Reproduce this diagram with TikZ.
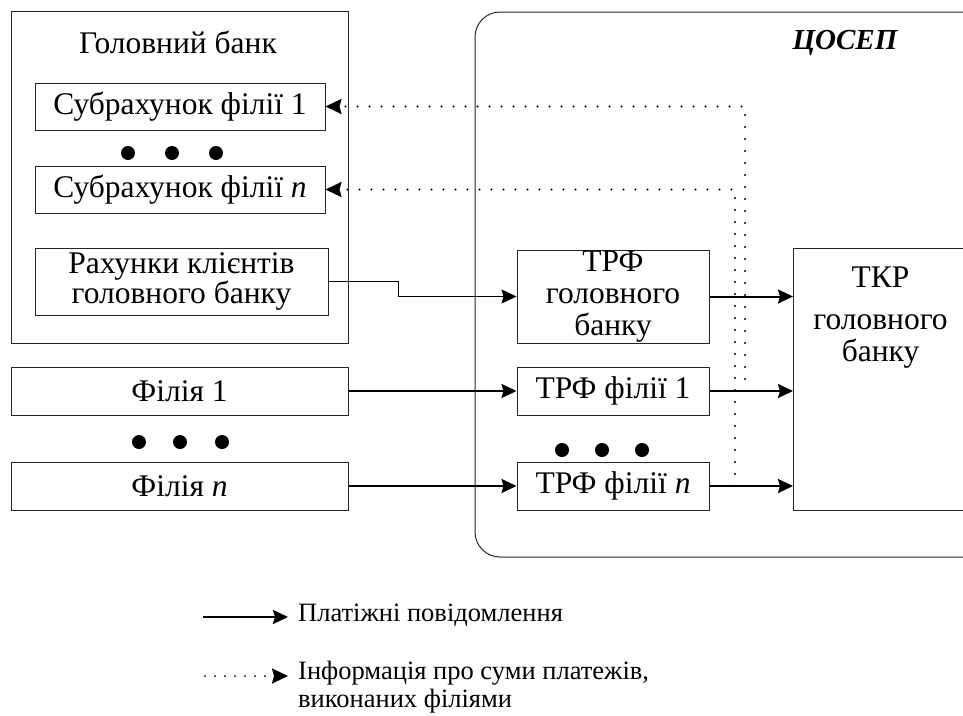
\documentclass[tikz,border=0pt]{standalone}
\usepackage{fontspec}
\setmainfont{Liberation Serif}
\usetikzlibrary{arrows.meta,positioning}
\newcommand\mainsize{\fontsize{31.5pt}{32pt}\selectfont}
\newcommand\legsize{\fontsize{26.5pt}{28pt}\selectfont}
\newcommand\cosepsize{\fontsize{29pt}{30pt}\selectfont}
\tikzset{
  box/.style={draw=black!85, line width=1pt, inner sep=0pt, align=center, font=\mainsize},
  frame/.style={draw=black!85, line width=1pt, inner sep=0pt},
  payarrow/.style={line width=2pt, -{Stealth[length=15pt,width=14pt,inset=2pt]}},
  thinarrow/.style={line width=1pt, -{Stealth[length=15pt,width=14pt,inset=2pt]}},
  infoarrow/.style={line width=2.4pt, line cap=round, dash pattern=on 0pt off 12pt,
    -{Stealth[length=16pt,width=15pt,inset=2pt]}},
  infolegend/.style={line width=2pt, line cap=round, dash pattern=on 0pt off 10pt,
    -{Stealth[length=16pt,width=15pt,inset=2pt]}},
  bigdot/.style={circle, fill=black, inner sep=0pt, minimum size=14pt},
}
\begin{document}
\begin{tikzpicture}[x=1pt,y=-1pt]
  %%%%% START %%%%%
  \clip (0,0) rectangle (963,715);

  % head bank
  \node[frame, minimum width=337, minimum height=332] (bank) at (179.5,177) {};
  \node[font=\mainsize] (banktitle) at (178,42) {Головний банк};
  \node[box, minimum width=290, minimum height=47] (sub1) at (180,106.5) {Субрахунок філії 1};
  \node[box, minimum width=290, minimum height=47] (subn) at (180,189.5) {Субрахунок філії \textit{n}};
  \node[box, font=\fontsize{31.5pt}{25pt}\selectfont, minimum width=293, minimum height=67] (rah) at (181.5,281.5) {Рахунки клієнтів\\головного банку};
  \foreach \x/\nm in {128/a,172/b,216/c}
    \node[bigdot] (dsub\nm) at (\x,153) {};

  % branches
  \node[box, minimum width=337, minimum height=48] (fil1) at (179.5,391) {Філія 1};
  \node[box, minimum width=337, minimum height=48] (filn) at (179.5,486) {Філія \textit{n}};
  \foreach \x/\nm in {139/a,180/b,222/c}
    \node[bigdot] (dfil\nm) at (\x,442) {};

  % ЦОСЕП
  \node[frame, rounded corners=25pt, minimum width=520, minimum height=545] (cosep) at (735,284.5) {};
  \node[font=\cosepsize\bfseries\itshape] (cosepname) at (845,43) {ЦОСЕП};
  \node[box, minimum width=192, minimum height=93] (trfh) at (613,296.5) {ТРФ\\головного\\банку};
  \node[box, minimum width=192, minimum height=48] (trf1) at (613,391) {ТРФ філії 1};
  \node[box, minimum width=192, minimum height=48] (trfn) at (613,486) {ТРФ філії \textit{n}};
  \foreach \x/\nm in {562/a,602/b,642/c}
    \node[bigdot] (dtrf\nm) at (\x,450) {};
  \node[frame, minimum width=174, minimum height=262, anchor=north west] (tkr) at (793,248) {};
  \node[font=\mainsize, align=center, inner sep=0pt, below=19pt of tkr.north] (tkrtext) {ТКР\\[10pt]головного\\банку};

  % payments
  \draw[thinarrow] (rah.east) -- ++(70,0) |- (trfh.west);
  \draw[payarrow] (fil1.east) -- (trf1.west);
  \draw[payarrow] (filn.east) -- (trfn.west);
  \draw[payarrow] (trfh.east) -- (trfh.east -| tkr.west);
  \draw[payarrow] (trf1.east) -- (trf1.east -| tkr.west);
  \draw[payarrow] (trfn.east) -- (trfn.east -| tkr.west);

  % info on branch sums
  \coordinate (info1) at (745,391);
  \coordinate (infon) at (735,486);
  \draw[infoarrow] (info1) |- (sub1.east);
  \draw[infoarrow] (infon) |- (subn.east);

  % legend
  \node[font=\legsize, anchor=west, inner sep=0pt] (legpay) at (298,615) {Платіжні повідомлення};
  \node[font=\legsize, anchor=north west, align=left, inner sep=0pt] (leginfo) at (298,661) {Інформація про суми платежів,\\виконаних філіями};
  \coordinate (legpaystart) at (203,617);
  \coordinate (legpayend) at (288,617);
  \coordinate (leginfostart) at (205,676);
  \coordinate (leginfoend) at (288,676);
  \draw[payarrow] (legpaystart) -- (legpayend);
  \draw[infolegend] (leginfostart) -- (leginfoend);

  %%%%% END %%%%%
\end{tikzpicture}
\end{document}
